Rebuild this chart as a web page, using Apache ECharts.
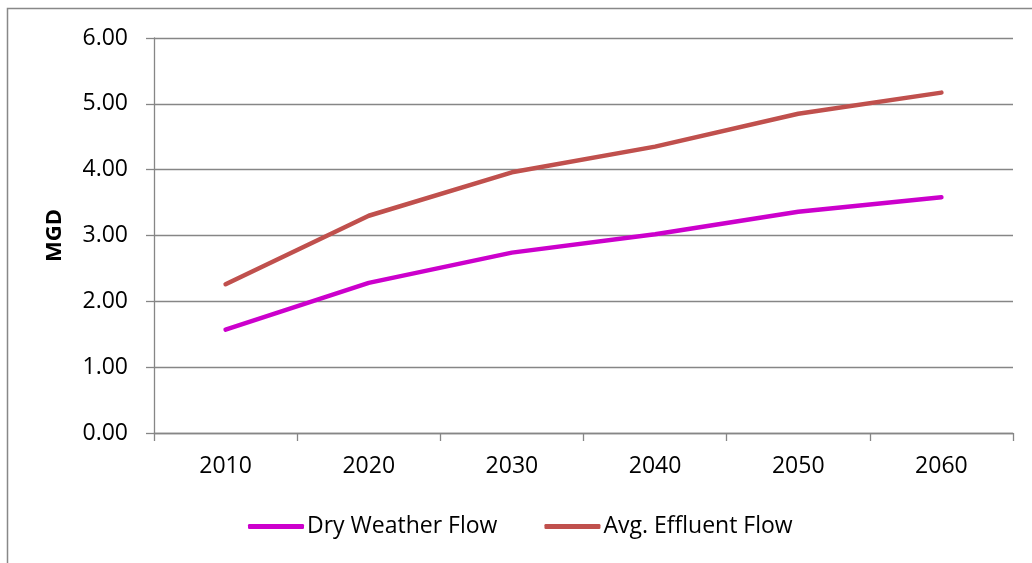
<!DOCTYPE html>
<html>
<head>
<meta charset="utf-8">
<script src="https://cdn.jsdelivr.net/npm/echarts@6/dist/echarts.min.js"></script>
<style>
html,body{margin:0;padding:0;background:#fff;}
#c{width:1032px;height:563px;}
</style>
</head>
<body>
<div id="c"></div>
<script>
const years = ['2010','2020','2030','2040','2050','2060'];
const dryWeatherFlow = [1.57, 2.28, 2.74, 3.02, 3.36, 3.58];
const avgEffluentFlow = [2.26, 3.30, 3.96, 4.35, 4.85, 5.17];
const yTicks = {min: 0, max: 6, interval: 1};

const FONT = '"Open Sans", "Noto Sans", sans-serif';
const chart = echarts.init(document.getElementById('c'), null, {renderer: 'canvas'});
chart.setOption({
  animation: false,
  backgroundColor: '#ffffff',
  graphic: [{
    type: 'polyline',
    shape: {points: [[7.5, 600], [7.5, 8.5], [1100, 8.5]]},
    style: {stroke: '#888888', lineWidth: 1.5, fill: null},
    silent: true
  }],
  grid: {left: 154, right: 19, top: 38, bottom: 130, containLabel: false},
  legend: {
    left: 243, top: 510,
    itemWidth: 56, itemHeight: 5, itemGap: 47,
    icon: 'roundRect',
    textStyle: {fontFamily: FONT, fontSize: 23, color: '#000', padding: [0, 0, 0, -2]},
    data: ['Dry Weather Flow', 'Avg. Effluent Flow']
  },
  xAxis: {
    type: 'category',
    data: years,
    boundaryGap: true,
    axisLine: {lineStyle: {color: '#868686', width: 1.3}},
    axisTick: {show: true, length: 8, alignWithLabel: false, lineStyle: {color: '#868686', width: 1.3}},
    axisLabel: {fontFamily: FONT, fontSize: 23, color: '#000', margin: 22},
    splitLine: {show: false}
  },
  yAxis: {
    type: 'value',
    min: yTicks.min, max: yTicks.max, interval: yTicks.interval,
    name: 'MGD',
    nameLocation: 'middle',
    nameGap: 88,
    nameRotate: 90,
    nameTextStyle: {fontFamily: FONT, fontSize: 22, fontWeight: 'bold', color: '#000'},
    axisLine: {show: true, lineStyle: {color: '#868686', width: 1.3}},
    axisTick: {show: true, length: 8, inside: false, lineStyle: {color: '#868686', width: 1.3}},
    axisLabel: {fontFamily: FONT, fontSize: 23, color: '#000', margin: 26,
      formatter: v => v.toFixed(2)},
    splitLine: {show: true, lineStyle: {color: '#868686', width: 1.3}}
  },
  series: [
    {
      name: 'Dry Weather Flow', type: 'line', data: dryWeatherFlow,
      symbol: 'none', color: '#CC00CC',
      lineStyle: {width: 4.5, color: '#CC00CC', cap: 'round', join: 'round'}
    },
    {
      name: 'Avg. Effluent Flow', type: 'line', data: avgEffluentFlow,
      symbol: 'none', color: '#C0504D',
      lineStyle: {width: 4.5, color: '#C0504D', cap: 'round', join: 'round'}
    }
  ]
});
</script>
</body>
</html>
